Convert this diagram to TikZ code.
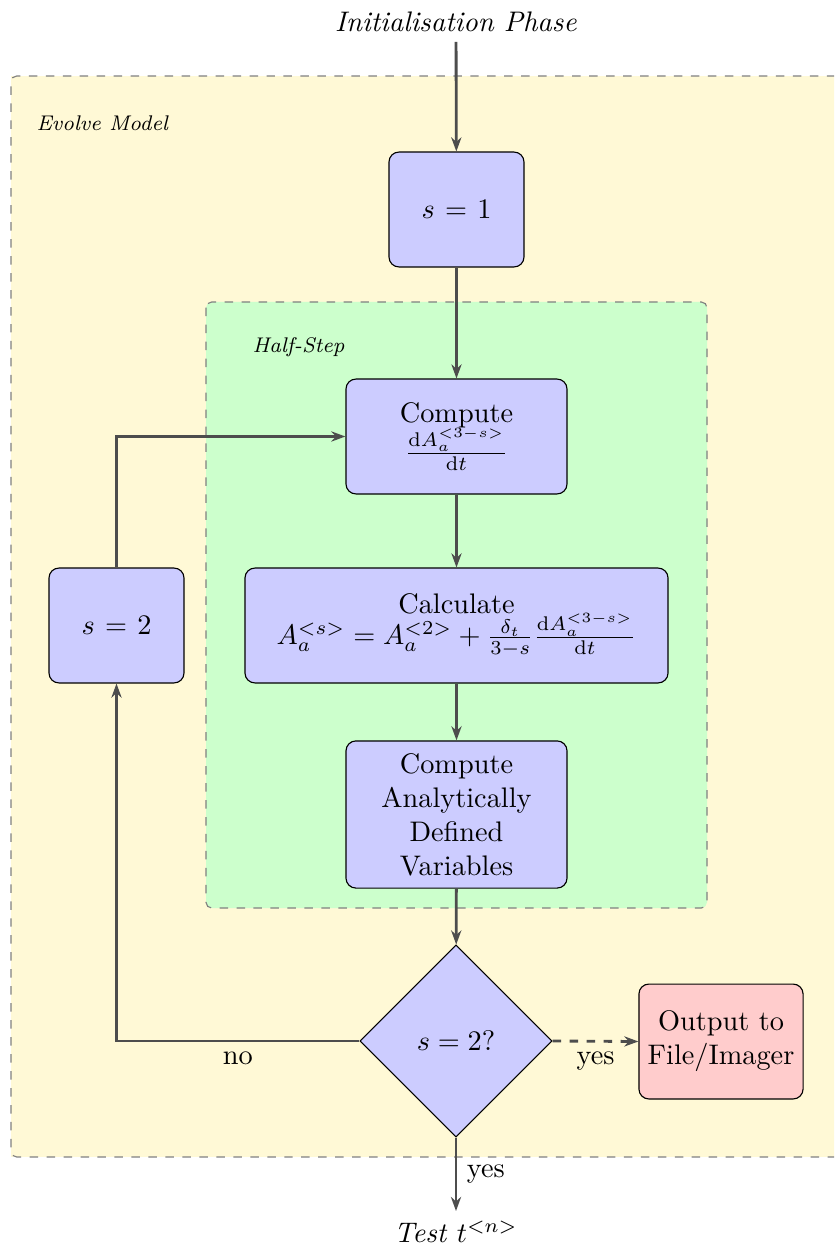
\documentclass[tikz,border=0pt]{standalone}
\usetikzlibrary{shapes.geometric,arrows.meta}
\definecolor{evolvefill}{RGB}{255,249,214}
\definecolor{stepfill}{RGB}{204,255,204}
\definecolor{boxfill}{RGB}{204,204,255}
\definecolor{outfill}{RGB}{255,204,204}
\definecolor{linkcol}{RGB}{77,77,77}
\begin{document}
\begin{tikzpicture}[x=0.3534pt,y=-0.3534pt,
  region/.style={draw=black!50,dashed,rounded corners=2pt},
  procbox/.style={draw=black,fill=boxfill,rounded corners=3.5pt,align=center,
    minimum width=47.7pt,minimum height=40.6pt,inner sep=2pt},
  decbox/.style={draw=black,fill=boxfill,diamond,aspect=1,inner sep=0pt,
    minimum size=67.9pt},
  link/.style={draw=linkcol,line width=1pt,-{Stealth[length=5pt,width=3.6pt]}},
  tag/.style={font=\fontsize{7.5}{9}\selectfont\itshape,anchor=west,inner sep=0pt}]
  \useasboundingbox (0,0) rectangle (834,1250);
  \clip (0,0) rectangle (834,1250);

  % enclosing regions
  \fill[evolvefill] (11,76) rectangle (870,1157);
  \draw[region] (870,1157) -- (11,1157) -- (11,76) -- (870,76);
  \node[tag] (evolvetag) at (36,123) {Evolve Model};
  \draw[region,fill=stepfill] (206,302) rectangle (707,908);
  \node[tag] (halftag) at (252,347) {Half-Step};

  % nodes
  \node (init) at (456,22) {\textit{Initialisation Phase}};
  \node[procbox] (s1) at (456.5,209.5) {$s \mkern1.5mu=\mkern1.5mu 1$};
  \node[procbox,minimum width=78.1pt] (comp) at (456.5,436.5)
    {Compute\\[-1pt]$\frac{\mathrm{d}A_a^{<3-s>}}{\mathrm{d}t}$};
  \node[procbox,minimum width=149.5pt] (calc) at (456.5,625.5)
    {Calculate\\[-1pt]$A_a^{<s>} = A_a^{<2>} + \frac{\delta_t}{3-s}\frac{\mathrm{d}A_a^{<3-s>}}{\mathrm{d}t}$};
  \node[procbox,minimum width=78.1pt,minimum height=52pt,text width=72pt] (anal) at (456.5,814.5)
    {Compute\\Analytically\\Defined\\Variables};
  \node[decbox] (dec) at (456,1041) {$s = 2?$};
  \node[procbox,fill=outfill,minimum width=58pt] (out) at (721,1041.5) {Output to\\File/Imager};
  \node[procbox] (s2) at (116.5,625.5) {$s \mkern1.5mu=\mkern1.5mu 2$};
  \node (test) at (456,1232) {\textit{Test} $t^{<n>}$};

  % connectors
  \draw[link] (init) -- (s1);
  \draw[link] (s1) -- (comp);
  \draw[link] (comp) -- (calc);
  \draw[link] (calc) -- (anal);
  \draw[link] (anal) -- (dec);
  \draw[link] (dec.west) -| node[pos=0.25,below] {no} (s2.south);
  \draw[link] (s2.north) |- (comp.west);
  \draw[link,dashed] (dec.east) -- node[below] {yes} (out.west);
  \draw[link] (dec.south) -- node[right] {yes} (test);
\end{tikzpicture}
\end{document}
